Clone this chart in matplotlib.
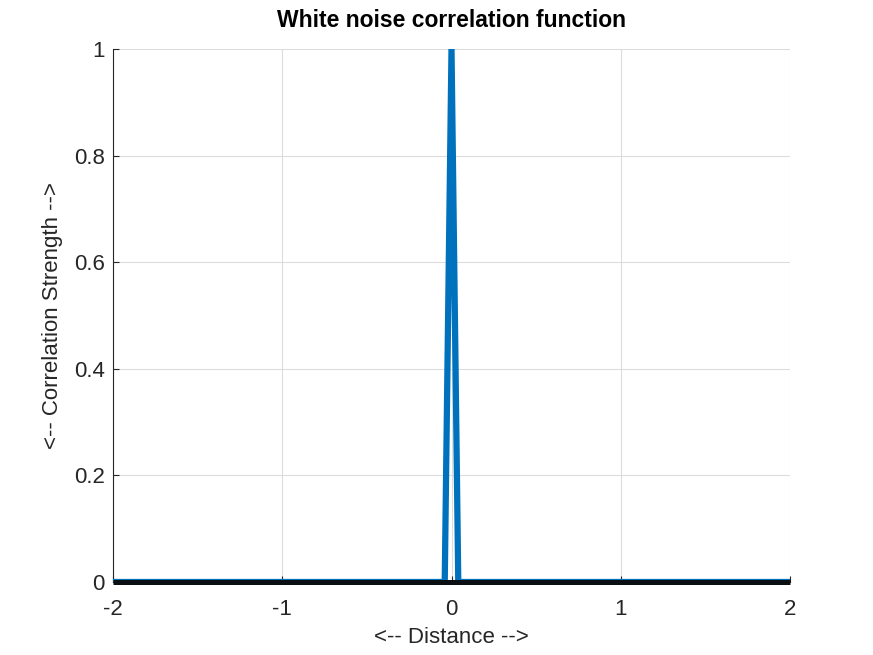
import matplotlib
matplotlib.use("Agg")
import matplotlib.pyplot as plt

# Data
corr_x = [-2.0, -0.04, 0.0, 0.04, 2.0]
corr_y = [0.0, 0.0, 1.0, 0.0, 0.0]
base_x = [-2.0, 2.0]
base_y = [0.0, 0.0]
xticks = [-2, -1, 0, 1, 2]
yticks = [0, 0.2, 0.4, 0.6, 0.8, 1]
yticklabels = ["0", "0.2", "0.4", "0.6", "0.8", "1"]

plt.rcParams['font.family'] = ['Liberation Sans', 'DejaVu Sans']

fig = plt.figure(figsize=(8.73, 6.55), dpi=100)
ax = fig.add_axes([113/873, 1-582/655, (790-113)/873, (582-49)/655])

ax.plot(corr_x, corr_y, color='#0072BD', linewidth=4.5, solid_joinstyle='miter', zorder=3)
ax.plot(base_x, base_y, color='#0a0f14', linewidth=3.6, solid_capstyle='butt', zorder=4, clip_on=False)

ax.set_xlim(-2, 2)
ax.set_ylim(0, 1)
ax.set_xticks(xticks)
ax.set_xticklabels([str(t) for t in xticks])
ax.set_yticks(yticks)
ax.set_yticklabels(yticklabels)
ax.grid(True, color='#dcdcdc', linewidth=0.8)
ax.set_axisbelow(True)
for s in ['top', 'right']:
    ax.spines[s].set_visible(False)
for s in ['left', 'bottom']:
    ax.spines[s].set_color('#262626')
    ax.spines[s].set_linewidth(0.8)
ax.tick_params(direction='in', length=4, width=0.8, labelsize=16, colors='#262626')
ax.tick_params(axis='x', pad=12)
ax.tick_params(axis='y', pad=6)

ax.set_title('White noise correlation function', fontsize=16.5, fontweight='bold', pad=16)
ax.set_xlabel('<-- Distance -->', fontsize=16, color='#262626', labelpad=5.5)
ax.set_ylabel('<-- Correlation Strength -->', fontsize=16, color='#262626', labelpad=8)

fig.savefig('out.png', dpi=100)
